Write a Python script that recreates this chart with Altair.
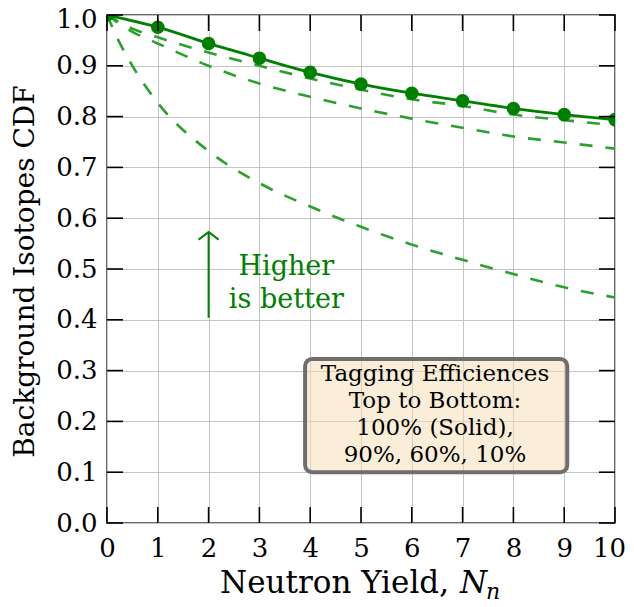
import altair as alt
import pandas as pd

FONT = "DejaVu Serif"

# ---- data ----
x_100 = [0, 1, 2, 3, 4, 5, 6, 7, 8, 9, 10]
cdf_100 = [1.0, 0.976, 0.944, 0.915, 0.887, 0.864, 0.846, 0.831, 0.816, 0.804, 0.794]

x_90 = [0, 0.5, 1, 2, 3, 4, 5, 6, 7, 8, 9, 10]
cdf_90 = [1.0, 0.973, 0.956, 0.926, 0.900, 0.875, 0.853, 0.834, 0.821, 0.804, 0.793, 0.783]

x_60 = [0, 0.5, 1, 2, 3, 4, 5, 6, 7, 8, 9, 10]
cdf_60 = [1.0, 0.967, 0.944, 0.900, 0.865, 0.839, 0.816, 0.796, 0.778, 0.761, 0.749, 0.737]

x_10 = [0, 0.25, 0.5, 1, 2, 3, 4, 5, 6, 7, 8, 9, 10]
cdf_10 = [1.0, 0.945, 0.900, 0.827, 0.732, 0.669, 0.623, 0.583, 0.548, 0.518, 0.490, 0.464, 0.444]

x_ticks = [0, 1, 2, 3, 4, 5, 6, 7, 8, 9, 10]
y_ticks = [0.0, 0.1, 0.2, 0.3, 0.4, 0.5, 0.6, 0.7, 0.8, 0.9, 1.0]

box_text = ["Tagging Efficiences", "Top to Bottom:", "100% (Solid),", "90%, 60%, 10%"]
box_text_y = [0.2795, 0.2264, 0.1732, 0.1201]
box_text_x = [6.457] * 4
box_x = [3.9, 9.06]
box_y = [0.100, 0.323]

arrow_x = [2]
arrow_y = [0.404, 0.573]
hint_text = ["Higher", "is better"]
hint_x = [3.53, 3.53]
hint_y = [0.488, 0.423]

# ---- tables ----
solid_df = pd.DataFrame({"x": x_100, "y": cdf_100})
dashed_df = pd.concat([
    pd.DataFrame({"x": x_90, "y": cdf_90, "s": "90%"}),
    pd.DataFrame({"x": x_60, "y": cdf_60, "s": "60%"}),
    pd.DataFrame({"x": x_10, "y": cdf_10, "s": "10%"}),
], ignore_index=True)
xt_df = pd.DataFrame({"x": x_ticks})
yt_df = pd.DataFrame({"y": y_ticks})
box_df = pd.DataFrame({"x": [box_x[0]], "x2": [box_x[1]], "y": [box_y[0]], "y2": [box_y[1]]})
boxtext_df = pd.DataFrame({"x": box_text_x, "y": box_text_y, "t": box_text})
arrow_df = pd.DataFrame({"x": arrow_x, "y": [arrow_y[0]], "y2": [arrow_y[1]]})
head_df = pd.DataFrame({"x": arrow_x, "y": [arrow_y[1]]})
hint_df = pd.DataFrame({"x": hint_x, "y": hint_y, "t": hint_text})

xs = alt.Scale(domain=[0, 10], nice=False, zero=False)
ys = alt.Scale(domain=[0, 1], nice=False, zero=False)

xaxis = alt.Axis(values=x_ticks, format="d", labelFont=FONT, labelFontSize=26,
                 labelColor="black", labelPadding=12, ticks=False, domain=False,
                 grid=True, gridColor="#c4c4c4", gridWidth=1, title=None,
                 labelOffset={"condition": {"test": "datum.value >= 9.99", "value": -6}, "value": 0},
                 labelFlush=False, labelOverlap=False)
yaxis = alt.Axis(values=y_ticks, format=".1f", labelFont=FONT, labelFontSize=26,
                 labelColor="black", labelPadding=10, ticks=False, domain=False,
                 grid=True, gridColor="#c4c4c4", gridWidth=1,
                 labelOffset={"condition": {"test": "datum.value >= 0.99", "value": 4}, "value": 0},
                 title="Background Isotopes CDF", titleFont=FONT, titleFontSize=28,
                 titleFontWeight="normal", titleColor="black", titleAngle=270,
                 titleX=-82, titleY=256, titleAlign="center", titleBaseline="middle",
                 labelFlush=False, labelOverlap=False)

X = alt.X("x:Q", scale=xs, axis=xaxis)
Y = alt.Y("y:Q", scale=ys, axis=yaxis)

dashed = alt.Chart(dashed_df).mark_line(
    color="#2ca02c", strokeWidth=2.6, strokeDash=[13, 13], interpolate="monotone", clip=True
).encode(x=X, y=Y, detail="s:N")

box = alt.Chart(box_df).mark_rect(
    fill="#f5deb3", fillOpacity=0.5, stroke="#6e6e6e", strokeWidth=4, cornerRadius=7
).encode(x=X, x2="x2:Q", y=Y, y2="y2:Q")

solid = alt.Chart(solid_df).mark_line(
    color="green", strokeWidth=2.8, interpolate="monotone", clip=True
).encode(x=X, y=Y)
points = alt.Chart(solid_df).mark_circle(
    color="green", size=185, opacity=1, clip=True
).encode(x=X, y=Y)

tick_col = "black"
tick_w = 1.6
xt_bottom = alt.Chart(xt_df).mark_rule(color=tick_col, strokeWidth=tick_w).encode(
    x=X, y=alt.value(508), y2=alt.value(492))
xt_top = alt.Chart(xt_df).mark_rule(color=tick_col, strokeWidth=tick_w).encode(
    x=X, y=alt.value(0), y2=alt.value(16))
yt_left = alt.Chart(yt_df).mark_rule(color=tick_col, strokeWidth=tick_w).encode(
    y=Y, x=alt.value(0), x2=alt.value(16))
yt_right = alt.Chart(yt_df).mark_rule(color=tick_col, strokeWidth=tick_w).encode(
    y=Y, x=alt.value(508), x2=alt.value(492))

arrow = alt.Chart(arrow_df).mark_rule(color="green", strokeWidth=2).encode(
    x=X, y=Y, y2="y2:Q")
head = alt.Chart(head_df).mark_point(
    shape="M -1 0.77 L 0 0 L 1 0.77", size=400, filled=False, stroke="green",
    strokeWidth=2, opacity=1
).encode(x=X, y=Y)
hint = alt.Chart(hint_df).mark_text(
    font=FONT, fontSize=27, color="green", align="center", baseline="alphabetic"
).encode(x=X, y=Y, text="t:N")
boxtext = alt.Chart(boxtext_df).mark_text(
    font=FONT, fontSize=23, color="black", align="center", baseline="alphabetic"
).encode(x=X, y=Y, text="t:N")

# x-axis title made of three pieces (italic N with subscript n)
title_main = alt.Chart(pd.DataFrame({"t": ["Neutron Yield,"]})).mark_text(
    font=FONT, fontSize=31, color="black", align="right", baseline="alphabetic"
).encode(x=alt.value(342), y=alt.value(578), text="t:N")
title_N = alt.Chart(pd.DataFrame({"t": ["N"]})).mark_text(
    font=FONT, fontSize=31, fontStyle="italic", color="black", align="left", baseline="alphabetic"
).encode(x=alt.value(353), y=alt.value(578), text="t:N")
title_n = alt.Chart(pd.DataFrame({"t": ["n"]})).mark_text(
    font=FONT, fontSize=22, fontStyle="italic", color="black", align="left", baseline="alphabetic"
).encode(x=alt.value(379), y=alt.value(584), text="t:N")

chart = alt.layer(
    dashed, box, solid, points, xt_bottom, xt_top, yt_left, yt_right,
    arrow, head, hint, boxtext, title_main, title_N, title_n
).properties(
    width=508, height=508,
    autosize=alt.AutoSizeParams(type="none"),
    padding={"left": 99, "top": 7, "right": 10, "bottom": 80},
).configure_view(
    stroke="#6a6a6a", strokeWidth=2
)

chart.save("out.html", embed_options={"renderer": "svg", "actions": False})
